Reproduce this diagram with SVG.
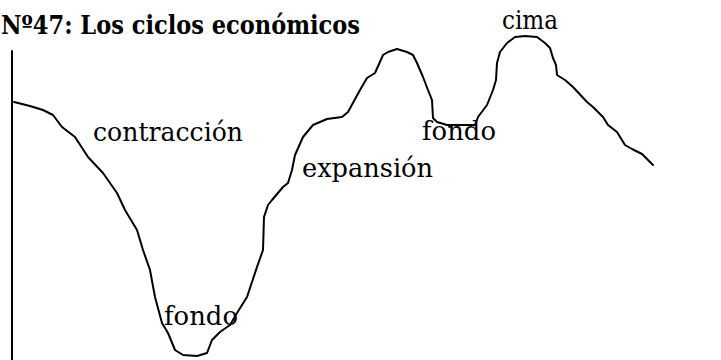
<svg xmlns="http://www.w3.org/2000/svg" width="721" height="360" viewBox="0 0 721 360">
  <style>
    .lbl { font-family: "DejaVu Serif", "Liberation Serif", serif; font-size: 26px; fill: #000; }
    .title { font-family: "DejaVu Serif", "Liberation Serif", serif; font-size: 26px; font-weight: bold; fill: #000; }
    .line { fill: none; stroke: #000; stroke-width: 2; stroke-linejoin: round; stroke-linecap: round; }
  </style>
  <rect width="721" height="360" fill="#fff"/>
  <g id="title">
    <text class="title" x="1" y="34" textLength="359" lengthAdjust="spacingAndGlyphs">Nº47: Los ciclos económicos</text>
  </g>
  <g id="connectors">
    <line id="axis" class="line" x1="12" y1="51" x2="12" y2="362"/>
    <polyline id="cycle" class="line" points="14,102 30,106 43,110 53,115 62,127 75,137 88,157 103,173 117,193 125,210 137,230 143,250 150,270 155,297 162,323 168,333 175,350 183,355 197,356 207,353 212,340 220,332 230,325 237,313 247,297 252,282 257,267 263,250 264,217 268,205 272,200 283,187 288,183 292,170 295,155 303,137 313,125 327,119 342,117 348,112 360,90 367,78 375,73 383,55 388,52 397,49 407,52 413,55 417,63 423,77 428,90 432,100 433,118 437,122 447,125 475,125 478,117 487,105 493,90 496,80 497,63 500,52 507,43 515,37 525,36 537,37 545,43 550,48 553,58 556,65 557,75 565,80 573,87 587,102 593,107 603,117 608,125 617,132 625,145 632,149 642,154 653,165"/>
  </g>
  <g id="contraccion"><text class="lbl" x="93" y="141" textLength="150" lengthAdjust="spacingAndGlyphs">contracción</text></g>
  <g id="expansion"><text class="lbl" x="302" y="177" textLength="131" lengthAdjust="spacingAndGlyphs">expansión</text></g>
  <g id="fondo-alto"><text class="lbl" x="422" y="140" textLength="74" lengthAdjust="spacingAndGlyphs">fondo</text></g>
  <g id="cima"><text class="lbl" x="502" y="29" textLength="56" lengthAdjust="spacingAndGlyphs">cima</text></g>
  <g id="fondo-bajo"><text class="lbl" x="164" y="325" textLength="74" lengthAdjust="spacingAndGlyphs">fondo</text></g>
</svg>
